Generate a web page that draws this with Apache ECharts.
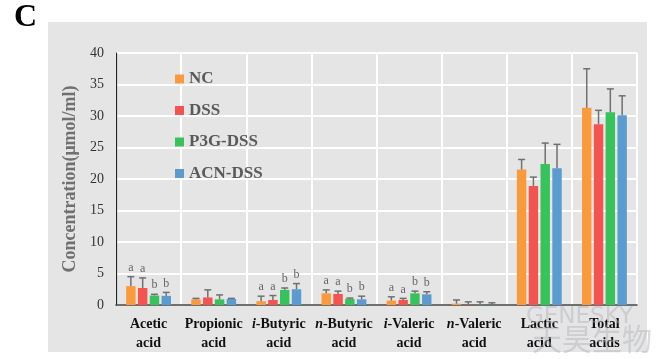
<!DOCTYPE html>
<html><head><meta charset="utf-8">
<script src="https://cdn.jsdelivr.net/npm/echarts@6/dist/echarts.min.js"></script>
<style>html,body{margin:0;padding:0;background:#fff}#c{width:663px;height:359px}</style>
</head><body><div id="c"></div>
<script>
const categories = ['Acetic acid','Propionic acid','i-Butyric acid','n-Butyric acid','i-Valeric acid','n-Valeric acid','Lactic acid','Total acids'];
const seriesNames = ['NC','DSS','P3G-DSS','ACN-DSS'];
const NC      = [3.0, 0.9, 0.6, 1.85, 0.7, 0.2, 21.5, 31.3];
const NC_err  = [1.5, 0.15, 0.8, 0.55, 0.6, 0.6, 1.6, 6.2];
const DSS     = [2.7, 1.2, 0.8, 1.75, 0.8, 0.05, 18.9, 28.7];
const DSS_err = [1.6, 1.2, 0.7, 0.45, 0.25, 0.45, 1.4, 2.2];
const P3G     = [1.5, 0.9, 2.4, 0.95, 1.85, 0.05, 22.4, 30.6];
const P3G_err = [0.2, 0.7, 0.3, 0.15, 0.35, 0.45, 3.3, 3.7];
const ACN     = [1.45, 0.95, 2.5, 0.9, 1.7, 0.02, 21.7, 30.1];
const ACN_err = [0.55, 0.1, 0.9, 0.5, 0.4, 0.33, 3.8, 3.1];
const NC_sig  = ['a','','a','a','a','','',''];
const DSS_sig = ['a','','a','a','a','','',''];
const P3G_sig = ['b','','b','b','b','','',''];
const ACN_sig = ['b','','b','b','b','','',''];
const yTicks = {min: 0, max: 40, interval: 5};

const colors = ['#FA9A3C','#F5534F','#38C25B','#5B9BD0'];
const values = [NC, DSS, P3G, ACN];
const errs = [NC_err, DSS_err, P3G_err, ACN_err];
const sigs = [NC_sig, DSS_sig, P3G_sig, ACN_sig];
const BW = 0.145, GAP = 0.25;
const serif = '"Liberation Serif","Times New Roman",serif';

function errSeries(k){
  return {
    type:'custom', name: seriesNames[k] + ' err', z: 5,
    data: values[k].map((v,i)=>[i, v, v + errs[k][i], sigs[k][i]]),
    renderItem: function(params, api){
      const band = api.size([1,0])[0];
      const bw = band*BW, gap = bw*GAP;
      const group = 4*bw + 3*gap;
      const off = -group/2 + k*(bw+gap) + bw/2;
      const base = api.coord([api.value(0), api.value(1)]);
      const top = api.coord([api.value(0), api.value(2)]);
      const x = base[0] + off;
      const st = {stroke:'#707070', lineWidth:1.5};
      const children = [
        {type:'line', shape:{x1:x, y1:base[1], x2:x, y2:top[1]}, style:st},
        {type:'line', shape:{x1:x-3.5, y1:top[1], x2:x+3.5, y2:top[1]}, style:st}
      ];
      const s = sigs[k][params.dataIndex];
      if (s) children.push({type:'text', style:{text:s, x:x, y:top[1]-3, textAlign:'center', textVerticalAlign:'bottom', font:'12px ' + serif, fill:'#666'}});
      return {type:'group', children};
    }
  };
}

const chart = echarts.init(document.getElementById('c'));
const series = [];
for (let k=0;k<4;k++){
  series.push({type:'bar', name: seriesNames[k], data: values[k], barWidth: (BW*100)+'%', barGap: (GAP*100)+'%', itemStyle:{color: colors[k]}, z: 3});
}
for (let k=0;k<4;k++) series.push(errSeries(k));

chart.setOption({
  animation:false,
  backgroundColor:'#fff',
  color: colors,
  graphic:[
    {type:'rect', z:-10, silent:true, shape:{x:48, y:22, width:599, height:330}, style:{fill:'#E5E5E5'}},
    {type:'text', left:14, top:2, style:{text:'C', font:'bold 32px ' + serif, fill:'#000'}},
    {type:'text', z:100, left:526, top:306, style:{text:'GENESKY', font:'23px "DejaVu Sans",sans-serif', fill:'rgba(170,175,185,0.45)'}},
    {type:'text', z:100, left:532, top:324, style:{text:'天昊生物', font:'30px "Noto Sans CJK SC",sans-serif', fill:'rgba(170,175,185,0.45)'}}
  ],
  grid:{left:116, right:26, top:53, bottom:54},
  legend:{
    data: seriesNames, orient:'vertical', left:170, top:65,
    itemWidth:9, itemHeight:9, itemGap:13.5, icon:'rect',
    textStyle:{fontFamily:serif, fontWeight:'bold', fontSize:17, color:'#595959', lineHeight:18}
  },
  xAxis:{
    type:'category', data: categories,
    axisLine:{show:true, lineStyle:{color:'#404040', width:1.5}},
    axisTick:{show:false},
    splitLine:{show:true, lineStyle:{color:'#fff', width:2}},
    axisLabel:{
      interval:0, margin:10, color:'#111', fontFamily:serif, fontWeight:'bold', fontSize:14, lineHeight:19,
      formatter: function(v){
        const sp = v.lastIndexOf(' ');
        const first = v.slice(0, sp), second = v.slice(sp+1);
        let line1;
        if (/^[in]-/.test(first)) line1 = '{it|' + first[0] + '}{b|' + first.slice(1) + '}';
        else line1 = '{b|' + first + '}';
        return line1 + '\n{b|' + second + '}';
      },
      rich:{
        b:{fontFamily:serif, fontWeight:'bold', fontSize:14, color:'#111', lineHeight:19},
        it:{fontFamily:serif, fontWeight:'bold', fontStyle:'italic', fontSize:14, color:'#111', lineHeight:19}
      }
    }
  },
  yAxis:{
    type:'value', min:yTicks.min, max:yTicks.max, interval:yTicks.interval,
    name:'Concentration(μmol/ml)', nameLocation:'middle', nameGap:24, nameRotate:90,
    nameTextStyle:{fontFamily:serif, fontWeight:'bold', fontSize:18, color:'#707070'},
    axisLine:{show:true, lineStyle:{color:'#222', width:1.2}},
    axisTick:{show:false},
    axisLabel:{margin:12, color:'#333', fontFamily:serif, fontSize:14},
    splitLine:{show:true, lineStyle:{color:'#fff', width:2}}
  },
  series
});
</script></body></html>
